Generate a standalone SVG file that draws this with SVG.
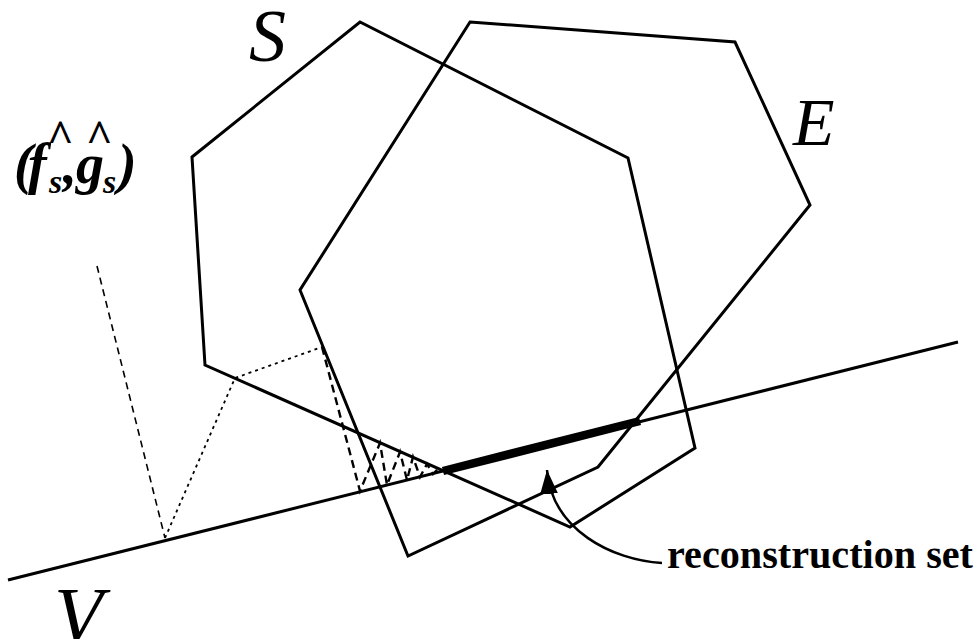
<svg xmlns="http://www.w3.org/2000/svg" width="980" height="639" viewBox="0 0 980 639">
<style>
.poly{fill:none;stroke:#000;stroke-width:3;stroke-linejoin:miter}
.dash{fill:none;stroke:#000;stroke-width:1.6;stroke-dasharray:7,5}
.dot{fill:none;stroke:#000;stroke-width:1.8;stroke-dasharray:3,4}
.zig{fill:none;stroke:#000;stroke-width:2.4;stroke-dasharray:8,5}
.lbl{font-family:"Liberation Serif",serif;font-style:italic;fill:#000}
.fg{font-family:"Liberation Serif",serif;font-weight:bold;font-style:italic;fill:#000}
</style>
<defs>
<marker id="ah2" viewBox="0 0 24 18" refX="24" refY="9" markerWidth="24" markerHeight="18" markerUnits="userSpaceOnUse" orient="auto">
<path d="M0,0 L24,9 L0,18 z" fill="#000"/>
</marker>
</defs>
<rect width="980" height="639" fill="#fff"/>
<g id="S">
<polygon class="poly" points="192,157 360,22 628,158 695,448 570,527 205,365"/>
<text class="lbl" x="249" y="61" font-size="74">S</text>
</g>
<g id="E">
<polygon class="poly" points="470,22 735,42 810,205 598,467 408,556 300,290"/>
<text class="lbl" x="793" y="145" font-size="68">E</text>
</g>
<g id="V">
<line class="poly" x1="8" y1="580" x2="958" y2="342"/>
<text class="lbl" x="54" y="643" font-size="80">V</text>
</g>
<g id="reconstruction">
<line x1="443" y1="471" x2="640" y2="421" stroke="#000" stroke-width="8.5"/>
<text x="667" y="568" font-family="'Liberation Serif',serif" font-weight="bold" font-size="40" textLength="306" lengthAdjust="spacingAndGlyphs">reconstruction set</text>
</g>
<g id="fg-label">
<text class="fg" font-size="56"><tspan x="14" y="183">(</tspan><tspan x="28" y="183">f</tspan><tspan x="49" y="193" font-size="34">s</tspan><tspan x="63" y="183">,</tspan><tspan x="76" y="183">g</tspan><tspan x="103" y="193" font-size="34">s</tspan><tspan x="118" y="183">)</tspan><tspan x="47" y="152" font-size="46" font-style="normal">^</tspan><tspan x="86" y="152" font-size="46" font-style="normal">^</tspan></text>
</g>
<g id="connectors">
<line class="dash" x1="97" y1="266" x2="165" y2="538"/>
<polyline class="dot" points="165,538 235,378 322,347"/>
<polyline class="zig" points="322,347 360,491 380,443 387,485 400,452 407,480 413,457 420,477 427,464 433,474 438,469 443,471"/>
<path d="M662,563 C612,560 552,530 547,470" fill="none" stroke="#000" stroke-width="2.5" marker-end="url(#ah2)"/>
</g>
</svg>
